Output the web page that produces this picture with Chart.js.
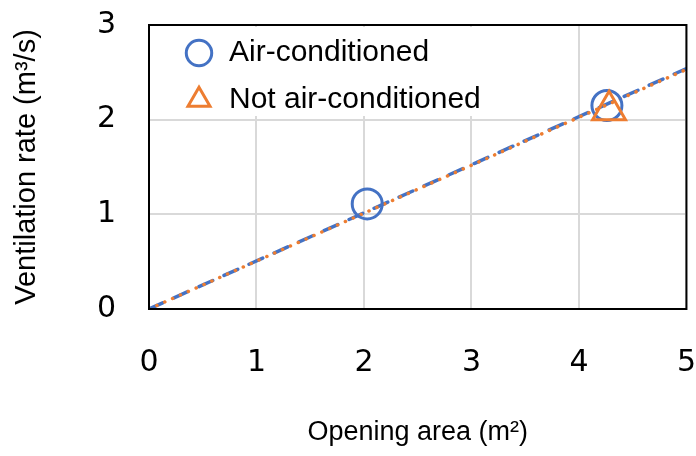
<!DOCTYPE html>
<html>
<head>
<meta charset="utf-8">
<script src="https://cdn.jsdelivr.net/npm/chart.js@4.4.0/dist/chart.umd.min.js"></script>
<style>
html, body { margin: 0; padding: 0; background: #fff; }
canvas { display: block; }
</style>
</head>
<body>
<canvas id="myChart" width="696" height="456"></canvas>
<script>
// measured points
const series_names = ["Air-conditioned", "Not air-conditioned"];
const air_x = [2.03, 4.26];
const air_y = [1.11, 2.15];
const notair_x = [4.28];
const notair_y = [2.10];

// trend lines through origin, value read at both ends of the x axis
const trend_x = [0, 5];
const air_trend_y = [0, 2.54];
const notair_trend_y = [0, 2.53];

const x_ticks = [0, 1, 2, 3, 4, 5];
const y_ticks = [0, 1, 2, 3];

const blue = '#4472C4';
const orange = '#ED7D31';

/** zips two arrays into chart.js {x, y} points */
function to_points(xs, ys) {
    return xs.map((x, i) => ({x: x, y: ys[i]}));
}

/** white box behind the legend + plot frame, then legend is drawn again on top */
const frame_plugin = {
    id: 'frame',
    afterLayout(chart) {
        // move legend a bit into the plot, like the excel one
        let lg = chart.legend;
        let area = chart.chartArea;
        lg.left = area.left + 18;
        lg.top = area.top - 4;
    },
    afterDraw(chart) {
        let ctx = chart.ctx;
        let area = chart.chartArea;
        let lg = chart.legend;
        let opts = lg.options.labels;
        let size = opts.font.size;
        ctx.save();
        ctx.font = size + 'px ' + opts.font.family;
        let w = Math.max(...lg.legendItems.map(it => ctx.measureText(it.text).width));
        let n = lg.legendItems.length;
        let x1 = lg.left + opts.padding + size + size / 2 + w + 6;
        let y1 = lg.top + opts.padding + n * size + (n - 1) * opts.padding + 1;
        ctx.fillStyle = '#fff';
        ctx.fillRect(area.left + 2, area.top + 2, x1 - area.left - 2, y1 - area.top - 2);
        ctx.restore();
        lg.draw();

        ctx.save();
        ctx.strokeStyle = '#000';
        ctx.lineWidth = 2;
        ctx.strokeRect(area.left, area.top, area.right - area.left, area.bottom - area.top);
        ctx.restore();
    }
};

function draw() {
    let ctx = document.getElementById('myChart').getContext('2d');
    myChart = new Chart(ctx, {
        type: 'scatter',
        data: {
            datasets: [
                {
                    label: series_names[0],
                    data: to_points(air_x, air_y),
                    pointStyle: 'circle',
                    pointRadius: 15,
                    pointBorderWidth: 3,
                    borderColor: blue,
                    backgroundColor: 'rgba(0,0,0,0)',
                    order: 2
                },
                {
                    label: series_names[1],
                    data: to_points(notair_x, notair_y),
                    pointStyle: 'triangle',
                    pointRadius: 19,
                    pointBorderWidth: 3,
                    borderColor: orange,
                    backgroundColor: 'rgba(0,0,0,0)',
                    order: 1
                },
                {
                    label: 'trend not air',
                    data: to_points(trend_x, notair_trend_y),
                    showLine: true,
                    pointRadius: 0,
                    borderColor: orange,
                    borderWidth: 3.5,
                    borderDash: [0.1, 8.5],
                    borderCapStyle: 'round',
                    order: 3
                },
                {
                    label: 'trend air',
                    data: to_points(trend_x, air_trend_y),
                    showLine: true,
                    pointRadius: 0,
                    borderColor: blue,
                    borderWidth: 3.5,
                    borderDash: [15, 12.4],
                    borderCapStyle: 'round',
                    order: 4
                }
            ]
        },
        options: {
            responsive: false,
            animation: false,
            // no extra room for the big markers, the plot box is fixed
            layout: { autoPadding: false, padding: { top: 25, right: 0, bottom: 0, left: 0 } },
            plugins: {
                tooltip: { enabled: false },
                legend: {
                    position: 'chartArea',
                    align: 'start',
                    labels: {
                        usePointStyle: true,
                        boxHeight: 18,
                        padding: 17,
                        color: '#000',
                        font: { family: 'Liberation Sans', size: 30 },
                        filter: (item) => item.datasetIndex < 2,
                        sort: (a, b) => a.datasetIndex - b.datasetIndex
                    }
                }
            },
            scales: {
                x: {
                    type: 'linear',
                    min: x_ticks[0],
                    max: x_ticks[x_ticks.length - 1],
                    ticks: {
                        stepSize: 1,
                        padding: 0,
                        color: '#000',
                        font: { family: 'DejaVu Sans', size: 30 }
                    },
                    // invisible tick marks just push the labels away from the axis
                    grid: { color: '#D9D9D9', lineWidth: 2, drawTicks: true, tickLength: 36, tickColor: 'rgba(0,0,0,0)' },
                    border: { display: false },
                    title: {
                        display: true,
                        text: 'Opening area (m²)',
                        color: '#000',
                        font: { family: 'Liberation Sans', size: 27 },
                        padding: { top: 0, bottom: 7 }
                    },
                    afterFit(scale) { scale.height = 147; }
                },
                y: {
                    type: 'linear',
                    min: y_ticks[0],
                    max: y_ticks[y_ticks.length - 1],
                    ticks: {
                        stepSize: 1,
                        padding: 0,
                        color: '#000',
                        font: { family: 'DejaVu Sans', size: 30 }
                    },
                    grid: { color: '#D9D9D9', lineWidth: 2, drawTicks: true, tickLength: 33, tickColor: 'rgba(0,0,0,0)' },
                    border: { display: false },
                    title: {
                        display: true,
                        text: 'Ventilation rate (m³/s)',
                        color: '#000',
                        font: { family: 'Liberation Sans', size: 29 },
                        padding: { top: 10, bottom: 0 }
                    },
                    afterFit(scale) { scale.width = 149; }
                }
            }
        },
        plugins: [frame_plugin]
    });
}

let myChart = {};
draw();
</script>
</body>
</html>
